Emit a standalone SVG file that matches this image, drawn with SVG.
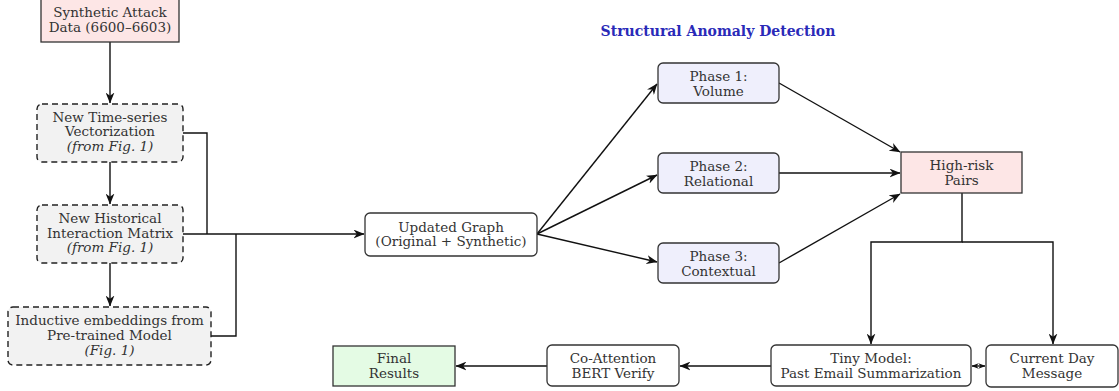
<svg xmlns="http://www.w3.org/2000/svg" width="1119" height="391" viewBox="0 0 1119 391">
<defs>
<style>
text{font-family:"DejaVu Serif","Liberation Serif",serif;font-size:13.5px;fill:#333;text-anchor:middle}
.it{font-style:italic}
.box{stroke:#333;stroke-width:1.3}
.dash{fill:#f2f2f2;stroke:#222;stroke-width:1.4;stroke-dasharray:6 4}
.pink{fill:#fde6e6}
.phase{fill:#efeffc}
.white{fill:#fff}
.green{fill:#e4fbe4}
.conn path{fill:none;stroke:#111;stroke-width:1.4}
.title{font-weight:bold;fill:#2a2ab8;font-size:14px}
</style>
<marker id="ah" viewBox="0 0 10 8" refX="9.5" refY="4" markerWidth="11" markerHeight="9" markerUnits="userSpaceOnUse" orient="auto-start-reverse">
<path d="M0,0 L10,4 L0,8 L3,4 Z" fill="#111"/>
</marker>
<marker id="ahs" viewBox="0 0 10 8" refX="9.5" refY="4" markerWidth="7" markerHeight="6" markerUnits="userSpaceOnUse" orient="auto-start-reverse">
<path d="M0,0 L10,4 L0,8 L3,4 Z" fill="#111"/>
</marker>
</defs>
<rect width="1119" height="391" fill="#fff"/>

<g class="conn">
<path d="M110,42 V103" marker-end="url(#ah)"/>
<path d="M110,162 V204" marker-end="url(#ah)"/>
<path d="M110,263 V306" marker-end="url(#ah)"/>
<path d="M183,133 H207 V234"/>
<path d="M211,336 H236 V234"/>
<path d="M183,234 H364" marker-end="url(#ah)"/>
<path d="M537,234 L657,84" marker-end="url(#ah)"/>
<path d="M537,234 L657,175" marker-end="url(#ah)"/>
<path d="M537,234 L657,262" marker-end="url(#ah)"/>
<path d="M779,83 L900,152" marker-end="url(#ah)"/>
<path d="M779,173 H900" marker-end="url(#ah)"/>
<path d="M779,263 L900,194" marker-end="url(#ah)"/>
<path d="M962,193 V242 H871 V344" marker-end="url(#ah)"/>
<path d="M962,242 H1053 V344" marker-end="url(#ah)"/>
<path d="M972,366 H985" marker-start="url(#ahs)" marker-end="url(#ahs)"/>
<path d="M771,366 H680" marker-end="url(#ah)"/>
<path d="M547,366 H456" marker-end="url(#ah)"/>
</g>

<text class="title" x="718" y="36">Structural Anomaly Detection</text>

<g id="synthetic">
<rect class="box pink" x="41" y="-2" width="138" height="44" stroke="#555"/>
<text x="110" y="17">Synthetic Attack</text>
<text x="110" y="32">Data (6600–6603)</text>
</g>

<g id="timeseries">
<rect class="dash" x="37" y="104" width="146" height="58" rx="5"/>
<text x="110" y="122">New Time-series</text>
<text x="110" y="136">Vectorization</text>
<text class="it" x="110" y="151">(from Fig. 1)</text>
</g>

<g id="historical">
<rect class="dash" x="37" y="205" width="146" height="58" rx="5"/>
<text x="110" y="223">New Historical</text>
<text x="110" y="238">Interaction Matrix</text>
<text class="it" x="110" y="252">(from Fig. 1)</text>
</g>

<g id="inductive">
<rect class="dash" x="8" y="307" width="203" height="58" rx="5"/>
<text x="109.5" y="325">Inductive embeddings from</text>
<text x="109.5" y="340">Pre-trained Model</text>
<text class="it" x="109.5" y="355">(Fig. 1)</text>
</g>

<g id="updated">
<rect class="box white" x="365" y="213" width="172" height="43" rx="5"/>
<text x="451" y="232">Updated Graph</text>
<text x="451" y="246">(Original + Synthetic)</text>
</g>

<g id="phase1">
<rect class="box phase" x="658" y="63" width="121" height="40" rx="5"/>
<text x="718.5" y="81">Phase 1:</text>
<text x="718.5" y="96">Volume</text>
</g>

<g id="phase2">
<rect class="box phase" x="658" y="153" width="121" height="40" rx="5"/>
<text x="718.5" y="171">Phase 2:</text>
<text x="718.5" y="186">Relational</text>
</g>

<g id="phase3">
<rect class="box phase" x="658" y="243" width="121" height="40" rx="5"/>
<text x="718.5" y="261">Phase 3:</text>
<text x="718.5" y="276">Contextual</text>
</g>

<g id="highrisk">
<rect class="box pink" x="901" y="152" width="121" height="41"/>
<text x="961.5" y="170">High-risk</text>
<text x="961.5" y="185">Pairs</text>
</g>

<g id="tiny">
<rect class="box white" x="771" y="345" width="200" height="41" rx="5"/>
<text x="871" y="363">Tiny Model:</text>
<text x="871" y="378">Past Email Summarization</text>
</g>

<g id="current">
<rect class="box white" x="986" y="345" width="132" height="42" rx="5"/>
<text x="1052" y="363">Current Day</text>
<text x="1052" y="378">Message</text>
</g>

<g id="coattention">
<rect class="box white" x="547" y="345" width="132" height="41" rx="5"/>
<text x="613" y="363">Co-Attention</text>
<text x="613" y="378">BERT Verify</text>
</g>

<g id="final">
<rect class="box green" x="333" y="346" width="122" height="40"/>
<text x="394" y="363">Final</text>
<text x="394" y="378">Results</text>
</g>
</svg>
